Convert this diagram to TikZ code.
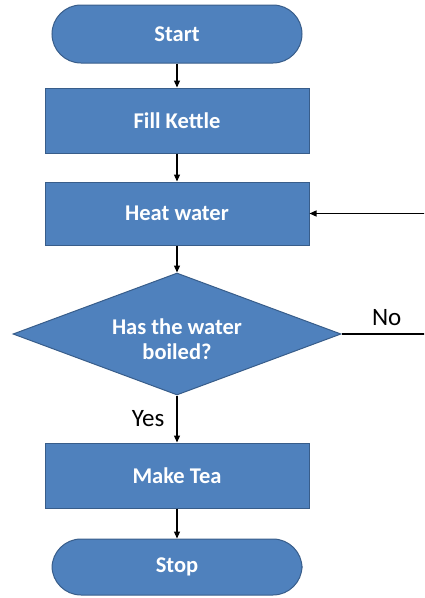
\documentclass[tikz,border=0pt]{standalone}
\usepackage{fontspec}
\setmainfont{Carlito}
\usetikzlibrary{arrows.meta,shapes.geometric}
\definecolor{BoxBlue}{HTML}{4F81BD}
\definecolor{BoxEdge}{HTML}{385D8A}

\begin{document}
\begin{tikzpicture}[x=1pt, y=1pt, >={Triangle[length=7pt,width=6pt]},
  box/.style={draw=BoxEdge, fill=BoxBlue, line width=1pt, text=white,
    font=\fontsize{22.5}{25}\selectfont\bfseries, inner sep=0pt},
  terminal/.style={box, rounded corners=29pt, minimum width=250pt, minimum height=58pt},
  process/.style={box, minimum width=264pt, minimum height=65pt},
  decision/.style={box, diamond, aspect=2.7, align=center,
    minimum width=328pt, minimum height=122pt},
  flow/.style={->, line width=1.2pt},
  tag/.style={font=\fontsize{25}{30}\selectfont, inner sep=2pt}]
  \useasboundingbox (0,0) rectangle (424,-598);
  \clip (0,0) rectangle (424,-598);

  \node[terminal] (start) at (177,-34) {Start};
  \node[process] (fill) at (177,-120.5) {Fill Kettle};
  \node[process, minimum height=63pt] (heat) at (177,-213.5) {Heat water};
  \node[decision] (boiled) at (177,-334) {};
  \node[box, draw=none, fill=none, align=center] (ask) at (177,-339) {Has the water\\boiled?};
  \node[process] (tea) at (177,-475.5) {Make Tea};
  \node[terminal, minimum height=56pt] (stop) at (177,-567) {Stop};
  \coordinate (back) at (432,-334);

  \draw[flow] (start) -- (fill);
  \draw[flow] (fill) -- (heat);
  \draw[flow] (heat) -- (boiled);
  \draw[flow] (boiled) -- node[tag, midway, left=10pt] {Yes} (tea);
  \draw[flow] (tea) -- (stop);
  \draw[flow] (boiled.east) -- node[tag, midway, above=6pt] {No} (back) |- (heat.east);
\end{tikzpicture}
\end{document}
